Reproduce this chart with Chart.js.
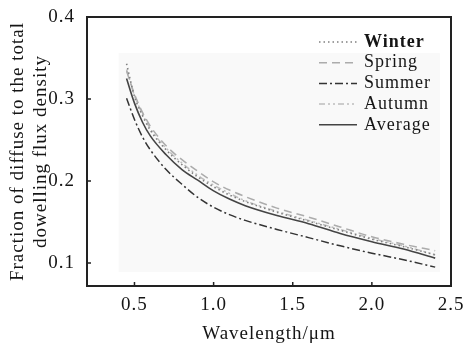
<!DOCTYPE html>
<html>
<head>
<meta charset="utf-8">
<script src="https://cdn.jsdelivr.net/npm/chart.js@4.4.1/dist/chart.umd.min.js"></script>
<style>
    html, body { margin: 0; padding: 0; background: #ffffff; }
</style>
</head>
<body>
<canvas id="graficoDifusa" width="464" height="343"></canvas>
<script>

// dados
const wavelengths = [0.45, 0.5, 0.55, 0.6, 0.7, 0.8, 0.9, 1.0, 1.1, 1.2, 1.4, 1.6, 1.8, 2.0, 2.2, 2.4];

const winter  = [0.343, 0.303, 0.280, 0.262, 0.238, 0.220, 0.205, 0.193, 0.183, 0.175, 0.162, 0.151, 0.140, 0.129, 0.120, 0.110];
const spring  = [0.334, 0.306, 0.284, 0.267, 0.243, 0.226, 0.212, 0.199, 0.189, 0.181, 0.167, 0.156, 0.144, 0.132, 0.123, 0.115];
const summer  = [0.301, 0.275, 0.254, 0.238, 0.214, 0.196, 0.180, 0.168, 0.159, 0.152, 0.141, 0.131, 0.121, 0.112, 0.104, 0.095];
const autumn  = [0.336, 0.304, 0.282, 0.264, 0.240, 0.222, 0.207, 0.195, 0.185, 0.176, 0.163, 0.152, 0.141, 0.130, 0.121, 0.110];
const average = [0.325, 0.295, 0.272, 0.255, 0.232, 0.214, 0.201, 0.188, 0.178, 0.170, 0.158, 0.148, 0.136, 0.126, 0.117, 0.106];

const seriesNames = ["Winter", "Spring", "Summer", "Autumn", "Average"];

const xTicks = [0.5, 1.0, 1.5, 2.0, 2.5];
const yTicks = [0.1, 0.2, 0.3, 0.4];

const fonte = "'Liberation Serif', 'Times New Roman', serif";
const corTexto = "#151515";

function pontos(valores) {
    return wavelengths.map((w, i) => ({ x: w, y: valores[i] }));
}

const estilos = [
    { cor: "#808080", dash: [1.5, 3], largura: 1.6 },
    { cor: "#acacac", dash: [8, 5], largura: 1.5 },
    { cor: "#333333", dash: [8, 3, 2, 3], largura: 1.5 },
    { cor: "#bdbdbd", dash: [6, 3, 2, 3, 2, 3], largura: 1.5 },
    { cor: "#444444", dash: [], largura: 1.6 }
];

const series = [winter, spring, summer, autumn, average];

const molduraPlugin = {
    id: "moldura",

    beforeDraw(chart) {
        chart.ctx.letterSpacing = "1px";
    },

    beforeDatasetsDraw(chart) {
        // fundo cinza bem claro atrás das curvas
        const { ctx, scales: { x, y } } = chart;
        ctx.save();
        ctx.fillStyle = "#f9f9f9";
        const x0 = x.getPixelForValue(0.4);
        const x1 = x.getPixelForValue(2.43);
        const y0 = y.getPixelForValue(0.356);
        const y1 = y.getPixelForValue(0.089);
        ctx.fillRect(x0, y0, x1 - x0, y1 - y0);
        ctx.restore();
    },

    afterDraw(chart) {
        const { ctx, chartArea: a, scales: { x, y } } = chart;
        ctx.save();

        // caixa
        ctx.strokeStyle = "#222222";
        ctx.lineWidth = 2;
        ctx.strokeRect(a.left, a.top, a.right - a.left, a.bottom - a.top);

        // marcas para dentro
        ctx.lineWidth = 1.5;
        ctx.beginPath();
        x.ticks.forEach(t => {
            const px = x.getPixelForValue(t.value);
            ctx.moveTo(px, a.bottom);
            ctx.lineTo(px, a.bottom - 4);
        });
        y.ticks.forEach(t => {
            const py = y.getPixelForValue(t.value);
            ctx.moveTo(a.left, py);
            ctx.lineTo(a.left + 4, py);
        });
        ctx.stroke();

        // legenda
        const lx = a.right - 132;
        const ty = a.top + 25;
        chart.data.datasets.forEach((ds, i) => {
            const py = ty + i * 20.7;
            ctx.strokeStyle = ds.borderColor;
            ctx.lineWidth = ds.borderWidth;
            ctx.setLineDash(ds.borderDash);
            ctx.beginPath();
            ctx.moveTo(lx, py);
            ctx.lineTo(lx + 38, py);
            ctx.stroke();
            ctx.setLineDash([]);
            ctx.fillStyle = corTexto;
            ctx.font = (i === 0 ? "bold " : "") + "18px " + fonte;
            ctx.textBaseline = "middle";
            ctx.textAlign = "left";
            ctx.fillText(ds.label, lx + 45, py);
        });

        ctx.restore();
    }
};

const grafico = new Chart(document.getElementById("graficoDifusa"), {

    type: "line",

    data: {
        datasets: series.map((valores, i) => ({
            label: seriesNames[i],
            data: pontos(valores),
            borderColor: estilos[i].cor,
            borderDash: estilos[i].dash,
            borderWidth: estilos[i].largura,
            pointRadius: 0,
            fill: false,
            cubicInterpolationMode: "monotone"
        }))
    },

    plugins: [molduraPlugin],

    options: {
        responsive: false,
        animation: false,
        devicePixelRatio: 1,

        layout: {
            padding: { top: 17, right: 13, left: 0, bottom: 0 }
        },

        plugins: {
            legend: { display: false },
            tooltip: { enabled: false }
        },

        scales: {
            x: {
                type: "linear",
                min: 0.2,
                max: 2.5,
                grid: { display: false },
                border: { display: false },
                afterBuildTicks: scale => {
                    scale.ticks = xTicks.map(v => ({ value: v }));
                },
                afterFit: scale => { scale.height = 57; },
                ticks: {
                    padding: 0,
                    color: corTexto,
                    font: { family: fonte, size: 19 },
                    maxRotation: 0,
                    callback: value => value.toFixed(1)
                },
                title: {
                    display: true,
                    text: "Wavelength/\u03bcm",
                    color: corTexto,
                    font: { family: fonte, size: 19 },
                    padding: { top: 0, bottom: -2 }
                }
            },
            y: {
                type: "linear",
                min: 0.072,
                max: 0.4,
                grid: { display: false },
                border: { display: false },
                afterBuildTicks: scale => {
                    scale.ticks = yTicks.map(v => ({ value: v }));
                },
                afterFit: scale => { scale.width = 87; },
                ticks: {
                    padding: 4,
                    color: corTexto,
                    font: { family: fonte, size: 19 },
                    callback: value => value.toFixed(1)
                },
                title: {
                    display: true,
                    text: ["Fraction of diffuse to the total", "dowelling flux density"],
                    color: corTexto,
                    font: { family: fonte, size: 19, lineHeight: 1.22 },
                    padding: { top: 6, bottom: 0 }
                }
            }
        }
    }
});
</script>
</body>
</html>
